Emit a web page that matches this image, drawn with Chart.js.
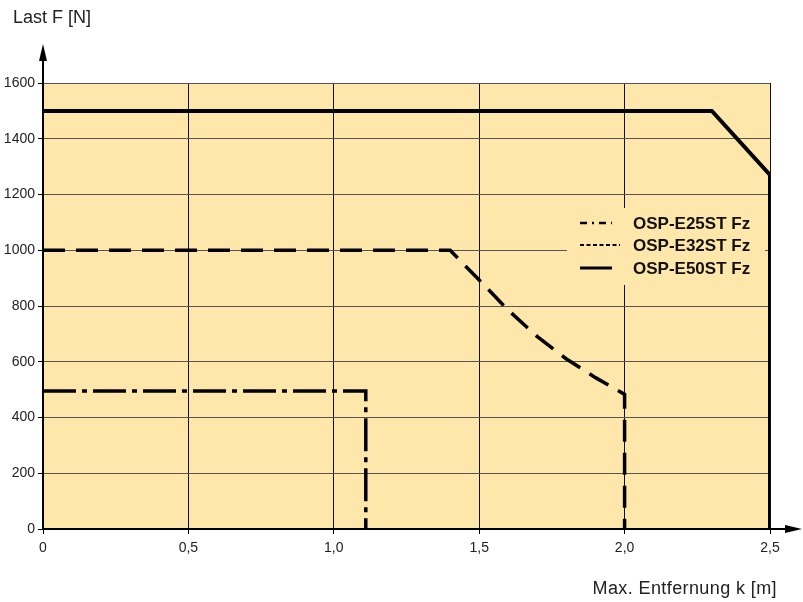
<!DOCTYPE html>
<html lang="de">
<head>
<meta charset="UTF-8">
<title>Last F über Entfernung k</title>
<style>
  html, body { margin: 0; padding: 0; background: #fff; }
  #wrap { width: 803px; height: 602px; position: relative; }
  canvas { display: block; }
</style>
</head>
<body>
<div id="wrap"><canvas id="chart" width="803" height="602"></canvas></div>
<script src="https://cdn.jsdelivr.net/npm/chart.js"></script>
<script>
// Daten
const seriesNames = ["OSP-E25ST Fz", "OSP-E32ST Fz", "OSP-E50ST Fz"];

const e25X = [0, 1.11, 1.11];
const e25Y = [495, 495, 0];

const e32X = [0, 1.4, 1.5, 1.6, 1.7, 1.8, 1.9, 2.0, 2.0];
const e32Y = [1000, 1000, 893, 785, 690, 610, 543, 483, 0];

const e50X = [0, 2.3, 2.5, 2.5];
const e50Y = [1500, 1500, 1270, 0];

const xTickLabels = ["0", "0,5", "1,0", "1,5", "2,0", "2,5"];
const yTickLabels = ["0", "200", "400", "600", "800", "1000", "1200", "1400", "1600"];

const xTitle = "Max. Entfernung k [m]";
const yTitle = "Last F [N]";

const beige = "#FFE6AA";

function pts(xs, ys) {
  return xs.map((x, i) => ({ x: x, y: ys[i] }));
}

// Hintergrund der Zeichenfläche
const areaBg = {
  id: "areaBg",
  beforeDraw(chart) {
    const a = chart.chartArea, c = chart.ctx;
    c.save();
    c.fillStyle = beige;
    c.fillRect(a.left, a.top, a.right - a.left, a.bottom - a.top);
    c.restore();
  }
};

// Achsenpfeile, Titel und Legende
const extras = {
  id: "extras",
  afterDraw(chart) {
    const a = chart.chartArea, c = chart.ctx;
    c.save();
    c.strokeStyle = "#000";
    c.fillStyle = "#000";
    c.lineWidth = 2;
    // y-Achse nach oben verlängern
    c.beginPath();
    c.moveTo(a.left, a.top);
    c.lineTo(a.left, 58);
    c.stroke();
    c.beginPath();
    c.moveTo(a.left, 44);
    c.lineTo(a.left - 4, 61);
    c.lineTo(a.left + 4, 61);
    c.closePath();
    c.fill();
    // x-Achse nach rechts verlängern
    c.beginPath();
    c.moveTo(a.right, a.bottom);
    c.lineTo(788, a.bottom);
    c.stroke();
    c.beginPath();
    c.moveTo(802, a.bottom);
    c.lineTo(785, a.bottom - 4);
    c.lineTo(785, a.bottom + 4);
    c.closePath();
    c.fill();

    // Titel
    c.fillStyle = "#222";
    c.font = "18px 'Liberation Sans', Arial, sans-serif";
    c.textBaseline = "alphabetic";
    c.textAlign = "left";
    c.fillText(yTitle, 13, 23);
    c.textAlign = "right";
    c.letterSpacing = "0.4px";
    c.fillText(xTitle, 777, 594);
    c.letterSpacing = "0px";

    // Legende
    c.fillStyle = beige;
    c.fillRect(567, 208, 198, 77);
    const rows = [223, 245, 268];
    const dashes = [[7, 5, 2, 5], [4, 2.5], []];
    const widths = [2.5, 2, 3];
    rows.forEach((y, i) => {
      c.strokeStyle = "#000";
      c.lineWidth = widths[i];
      c.setLineDash(dashes[i]);
      c.beginPath();
      c.moveTo(580, y);
      c.lineTo(i === 1 ? 620 : 612, y);
      c.stroke();
      c.setLineDash([]);
      c.fillStyle = "#111";
      c.font = "bold 17px 'Liberation Sans', Arial, sans-serif";
      c.textAlign = "left";
      c.textBaseline = "middle";
      c.fillText(seriesNames[i], 633, y + 1);
    });
    c.restore();
  }
};

new Chart(document.getElementById("chart"), {
  type: "line",
  data: {
    datasets: [
      {
        label: seriesNames[0],
        data: pts(e25X, e25Y),
        borderColor: "#000",
        borderWidth: 3.5,
        borderDash: [33, 6, 5, 6],
        pointRadius: 0,
        tension: 0
      },
      {
        label: seriesNames[1],
        data: pts(e32X, e32Y),
        borderColor: "#000",
        borderWidth: 3.5,
        borderDash: [22, 11],
        pointRadius: 0,
        tension: 0
      },
      {
        label: seriesNames[2],
        data: pts(e50X, e50Y),
        borderColor: "#000",
        borderWidth: 4,
        pointRadius: 0,
        tension: 0
      }
    ]
  },
  options: {
    responsive: false,
    animation: false,
    devicePixelRatio: 1,
    layout: { padding: { top: 83, right: 33, bottom: 0, left: 0 } },
    plugins: { legend: { display: false }, tooltip: { enabled: false } },
    scales: {
      x: {
        type: "linear",
        min: 0,
        max: 2.5,
        afterFit(s) { s.height = 73; },
        afterBuildTicks(s) {
          s.ticks = xTickLabels.map((l, i) => ({ value: i * 0.5 }));
        },
        ticks: {
          color: "#222",
          padding: 6,
          font: { family: "'Liberation Sans', Arial, sans-serif", size: 14 },
          callback: (v, i) => xTickLabels[i]
        },
        grid: { color: "#111", lineWidth: 1, tickLength: 5, tickColor: "#000" },
        border: { color: "#000", width: 2 }
      },
      y: {
        min: 0,
        max: 1600,
        afterFit(s) { s.width = 43; },
        afterBuildTicks(s) {
          s.ticks = yTickLabels.map(l => ({ value: Number(l) }));
        },
        ticks: {
          color: "#222",
          padding: 3,
          font: { family: "'Liberation Sans', Arial, sans-serif", size: 14 },
          callback: (v, i) => yTickLabels[i]
        },
        grid: { color: "#555", lineWidth: 1, tickLength: 5, tickColor: "#000" },
        border: { color: "#000", width: 2 }
      }
    }
  },
  plugins: [areaBg, extras]
});
</script>
</body>
</html>
